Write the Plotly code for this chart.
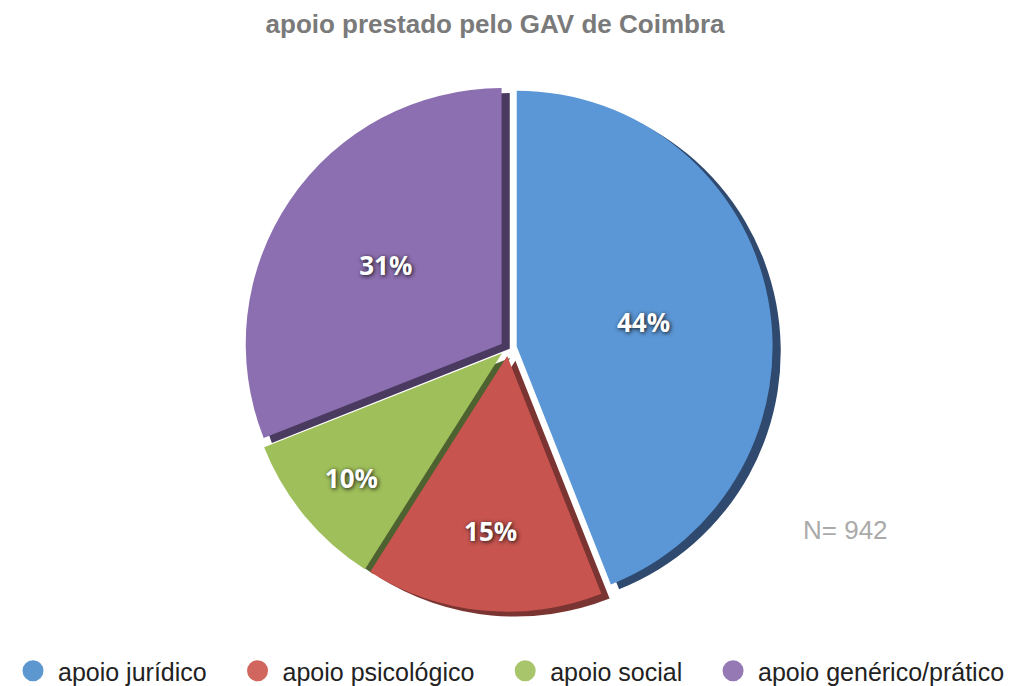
import plotly.graph_objects as go

categories = ["apoio jurídico", "apoio psicológico", "apoio social", "apoio genérico/prático"]
values = [44, 15, 10, 31]
slice_colors = ["#5b97d6", "#c7544f", "#9fbf5a", "#8c6fb0"]
legend_colors = ["#5d97cf", "#d1665f", "#a9c56b", "#9479b4"]
title_text = "apoio prestado pelo GAV de Coimbra"
note_text = "N= 942"

fig = go.Figure()

# shadow layer to mimic the 3D edge
fig.add_trace(go.Pie(
    labels=categories, values=values, sort=False, direction="clockwise", rotation=0,
    marker=dict(colors=["#2f4a6e", "#7a3431", "#4d6230", "#4a3a60"]),
    pull=[0.035, 0.03, 0.03, 0.03], textinfo="none", hoverinfo="skip", showlegend=False,
    domain=dict(x=[0.2381, 0.7572], y=[0.111, 0.883]),
))

fig.add_trace(go.Pie(
    labels=categories, values=values, sort=False, direction="clockwise", rotation=0,
    marker=dict(colors=slice_colors, line=dict(color="white", width=0)),
    pull=[0.035, 0.03, 0.03, 0.03],
    texttemplate="<b>%{value}%</b>", textposition="inside", insidetextorientation="horizontal",
    textfont=dict(size=26, color="white", family="Open Sans", shadow="1px 1px 4px #111"),
    showlegend=False,
    domain=dict(x=[0.2301, 0.7492], y=[0.118, 0.890]),
))

for i, (name, col) in enumerate(zip(categories, legend_colors)):
    pad = "\u00a0\u00a0\u00a0" if i < len(categories) - 1 else ""
    fig.add_trace(go.Scatter(
        x=[None], y=[None], mode="markers", name=name + pad,
        marker=dict(symbol="circle", size=16, color=col, line=dict(color=col, width=5)),
    ))

fig.add_annotation(
    text=note_text, x=0.864, y=0.214, xref="paper", yref="paper", showarrow=False,
    font=dict(size=26, color="#aaaaaa", family="Liberation Sans"),
)

fig.update_layout(
    width=1021, height=686,
    paper_bgcolor="white", plot_bgcolor="white",
    margin=dict(l=0, r=0, t=0, b=0),
    title=dict(text="<b>" + title_text + "</b>", x=0.477, xanchor="center", y=0.977, yanchor="middle",
               font=dict(size=26, color="#7a7a7a", family="Liberation Sans")),
    xaxis=dict(visible=False), yaxis=dict(visible=False),
    legend=dict(orientation="h", x=0.0, xanchor="left", y=0.0, yanchor="bottom",
                font=dict(size=25, color="#222222", family="Liberation Sans"),
                itemwidth=40, tracegroupgap=0),
)

fig.write_html("out.html")
